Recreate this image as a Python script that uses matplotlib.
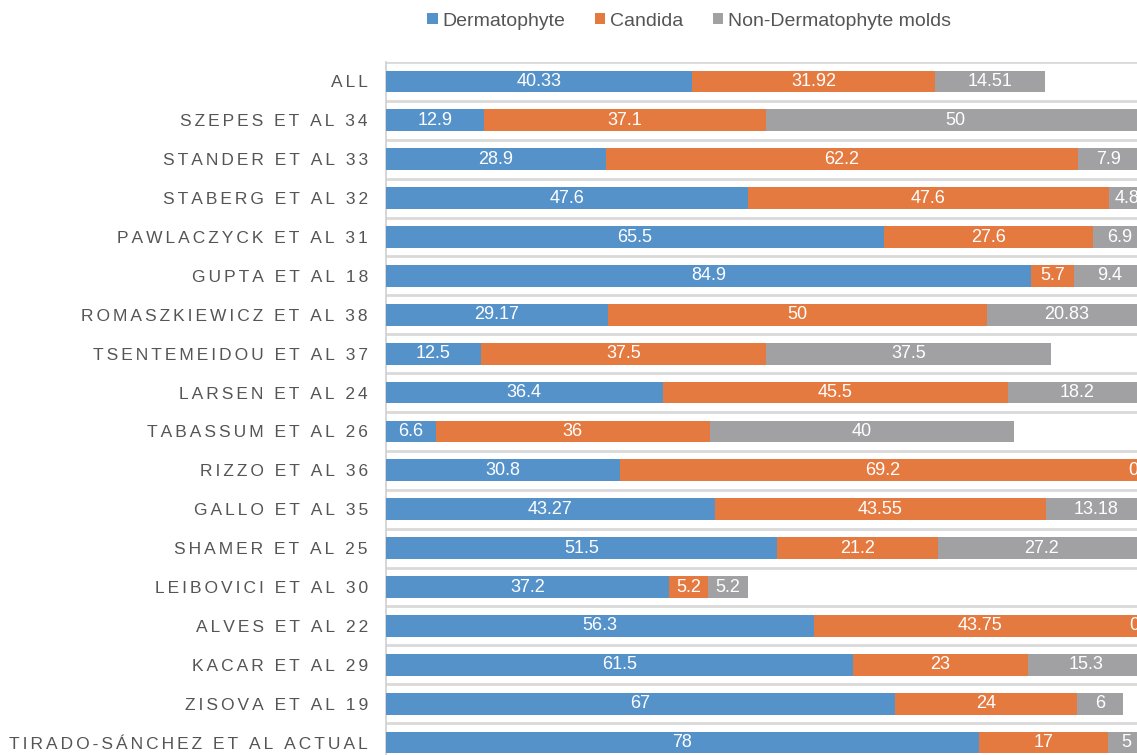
import numpy as np
import matplotlib
matplotlib.use("Agg")
import matplotlib.pyplot as plt

# Study labels, top to bottom
studies = [
    "ALL", "SZEPES ET AL 34", "STANDER ET AL 33", "STABERG ET AL 32",
    "PAWLACZYCK ET AL 31", "GUPTA ET AL 18", "ROMASZKIEWICZ ET AL 38",
    "TSENTEMEIDOU ET AL 37", "LARSEN ET AL 24", "TABASSUM ET AL 26",
    "RIZZO ET AL 36", "GALLO ET AL 35", "SHAMER ET AL 25",
    "LEIBOVICI ET AL 30", "ALVES ET AL 22", "KACAR ET AL 29",
    "ZISOVA ET AL 19", "TIRADO-SÁNCHEZ ET AL ACTUAL",
]

dermatophyte = [40.33, 12.9, 28.9, 47.6, 65.5, 84.9, 29.17, 12.5, 36.4, 6.6,
                30.8, 43.27, 51.5, 37.2, 56.3, 61.5, 67, 78]
candida = [31.92, 37.1, 62.2, 47.6, 27.6, 5.7, 50, 37.5, 45.5, 36,
           69.2, 43.55, 21.2, 5.2, 43.75, 23, 24, 17]
ndm = [14.51, 50, 7.9, 4.8, 6.9, 9.4, 20.83, 37.5, 18.2, 40,
       0, 13.18, 27.2, 5.2, 0, 15.3, 6, 5]

series_names = ["Dermatophyte", "Candida", "Non-Dermatophyte molds"]
colors = ["#5592c9", "#e57a40", "#a1a1a4"]

plt.rcParams['font.family'] = ['Liberation Sans', 'DejaVu Sans']


def spaced(s):
    # imitate the wide letter tracking of the original labels
    return "\u200a\u200a".join(s)


fig = plt.figure(figsize=(11.37, 7.55), dpi=100)
ax = fig.add_axes([386 / 1137, -7 / 755, 1 - 386 / 1137, 700 / 755])

y = np.arange(len(studies))
left = np.zeros(len(studies))
for vals, name, col in zip([dermatophyte, candida, ndm], series_names, colors):
    vals = np.array(vals, dtype=float)
    ax.barh(y, vals, left=left, height=0.56, color=col, label=name,
            edgecolor="none", zorder=3)
    for yi, l, v in zip(y, left, vals):
        if v == 0:
            # zero segment sits at the very end; keep its label just inside
            ax.annotate("0", xy=(l, yi), xytext=(-5, 0),
                        textcoords="offset points", ha="right", va="center",
                        color="white", fontsize=13, zorder=4,
                        annotation_clip=False)
        else:
            ax.text(l + v / 2, yi, f"{v:g}", ha="center", va="center",
                    color="white", fontsize=13, zorder=4)
    left += vals

ax.set_xlim(0, 98.85)
ax.set_ylim(len(studies) - 0.5, -0.5)
ax.set_yticks(y)
ax.set_yticklabels([spaced(s) for s in studies], fontsize=12.5, color="#555555")
ax.tick_params(axis="y", length=0, pad=13)
ax.set_xticks([])

# light separators between rows
for b in np.arange(-0.5, len(studies), 1.0):
    ax.axhline(b, color="#d9d9d9", lw=2, zorder=1)

for side in ["top", "right", "bottom"]:
    ax.spines[side].set_visible(False)
ax.spines["left"].set_color("#d0d0d0")
ax.spines["left"].set_linewidth(1.2)

fig.legend(loc="center", bbox_to_anchor=(689 / 1137, 1 - 21 / 755), ncol=3,
           frameon=False, fontsize=14, handlelength=0.55, handleheight=0.55,
           handletextpad=0.25, columnspacing=1.5, labelcolor="#555555")

fig.savefig("out.png", dpi=100)
